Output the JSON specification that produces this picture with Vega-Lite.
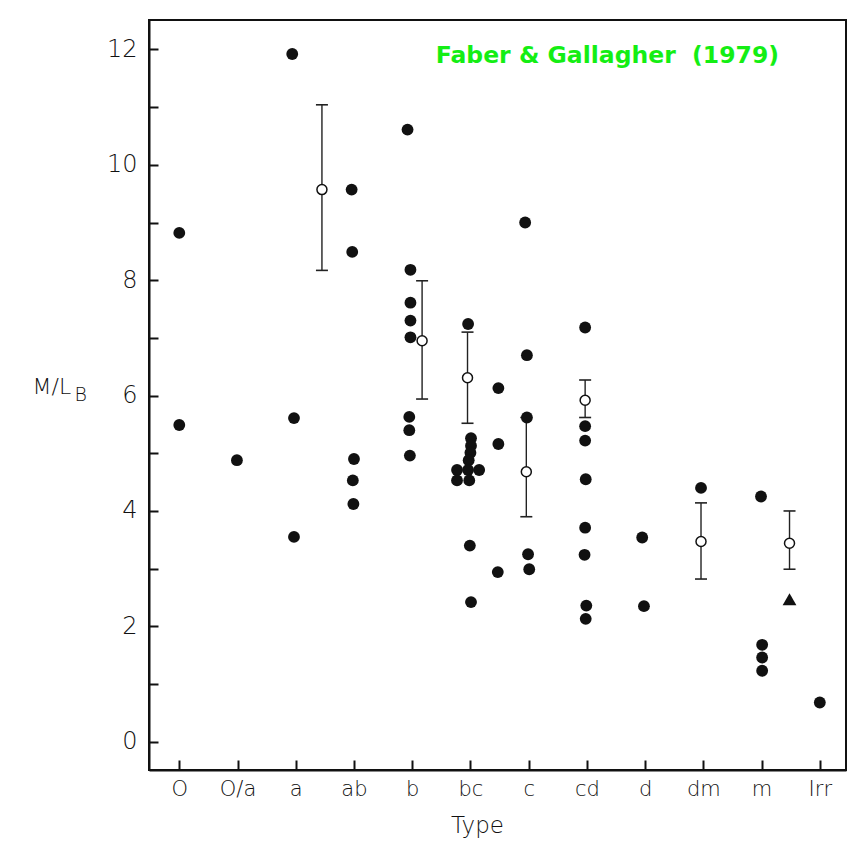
{
  "$schema": "https://vega.github.io/schema/vega-lite/v6.json",
  "autosize": {"type": "none"},
  "width": 697,
  "height": 750,
  "padding": {"left": 149, "top": 20, "right": 12, "bottom": 74},
  "background": "white",
  "title": {
    "text": "Faber & Gallagher\u00a0 (1979)",
    "anchor": "end",
    "frame": "group",
    "orient": "top",
    "offset": 0,
    "baseline": "alphabetic",
    "dx": -67,
    "dy": 66,
    "font": "DejaVu Sans",
    "fontWeight": "bold",
    "fontSize": 23.5,
    "color": "#14ee14"
  },
  "datasets": {
    "pts": [
      {"x": 0.0, "y": 8.82}, {"x": 0.0, "y": 5.49},
      {"x": 0.99, "y": 4.88},
      {"x": 1.94, "y": 11.92}, {"x": 1.97, "y": 5.61}, {"x": 1.97, "y": 3.55},
      {"x": 2.96, "y": 9.57}, {"x": 2.97, "y": 8.49}, {"x": 3.0, "y": 4.9}, {"x": 2.98, "y": 4.53}, {"x": 2.99, "y": 4.12},
      {"x": 3.92, "y": 10.61}, {"x": 3.97, "y": 8.18}, {"x": 3.97, "y": 7.61}, {"x": 3.97, "y": 7.3}, {"x": 3.97, "y": 7.01}, {"x": 3.95, "y": 5.63}, {"x": 3.95, "y": 5.4}, {"x": 3.96, "y": 4.96},
      {"x": 4.96, "y": 7.24}, {"x": 5.01, "y": 5.26}, {"x": 5.01, "y": 5.13}, {"x": 5.0, "y": 5.01}, {"x": 4.97, "y": 4.88},
      {"x": 4.77, "y": 4.71}, {"x": 4.96, "y": 4.71}, {"x": 5.15, "y": 4.71}, {"x": 4.77, "y": 4.53}, {"x": 4.98, "y": 4.53},
      {"x": 4.99, "y": 3.4}, {"x": 5.01, "y": 2.42},
      {"x": 5.48, "y": 6.13}, {"x": 5.48, "y": 5.16}, {"x": 5.47, "y": 2.94},
      {"x": 5.94, "y": 9.0}, {"x": 5.97, "y": 6.7}, {"x": 5.97, "y": 5.62}, {"x": 5.99, "y": 3.25}, {"x": 6.01, "y": 2.99},
      {"x": 6.97, "y": 7.18}, {"x": 6.97, "y": 5.47}, {"x": 6.97, "y": 5.22}, {"x": 6.98, "y": 4.55}, {"x": 6.97, "y": 3.71}, {"x": 6.96, "y": 3.24}, {"x": 6.99, "y": 2.36}, {"x": 6.98, "y": 2.13},
      {"x": 7.95, "y": 3.54}, {"x": 7.98, "y": 2.35},
      {"x": 8.96, "y": 4.4},
      {"x": 9.99, "y": 4.25}, {"x": 10.01, "y": 1.68}, {"x": 10.01, "y": 1.46}, {"x": 10.01, "y": 1.23},
      {"x": 11.0, "y": 0.68}
    ],
    "errs": [
      {"x": 2.45, "y": 9.57, "lo": 8.17, "hi": 11.04},
      {"x": 4.17, "y": 6.95, "lo": 5.94, "hi": 7.99},
      {"x": 4.95, "y": 6.31, "lo": 5.52, "hi": 7.1},
      {"x": 5.96, "y": 4.68, "lo": 3.9, "hi": 5.62},
      {"x": 6.97, "y": 5.92, "lo": 5.62, "hi": 6.27},
      {"x": 8.96, "y": 3.47, "lo": 2.82, "hi": 4.14},
      {"x": 10.48, "y": 3.44, "lo": 2.99, "hi": 4.0}
    ],
    "tri": [
      {"x": 10.48, "y": 2.47}
    ]
  },
  "encoding": {
    "x": {
      "field": "x",
      "type": "quantitative",
      "scale": {"domain": [-0.52, 11.45], "nice": false, "zero": false},
      "axis": {
        "values": [0, 1, 2, 3, 4, 5, 6, 7, 8, 9, 10, 11],
        "labelExpr": "['O', 'O/a', 'a', 'ab', 'b', 'bc', 'c', 'cd', 'd', 'dm', 'm', 'Irr'][datum.value]",
        "title": "Type",
        "titleX": 328,
        "titleY": 62,
        "titleAlign": "center",
        "titleBaseline": "alphabetic",
        "titleFontSize": 23,
        "labelFontSize": 21,
        "labelPadding": 18,
        "tickSize": -10
      }
    }
  },
  "layer": [
    {
      "data": {"name": "errs"},
      "mark": {"type": "rule", "color": "#222", "strokeWidth": 1.4},
      "encoding": {
        "y": {"field": "lo", "type": "quantitative", "scale": {"domain": [-0.49, 12.51], "nice": false, "zero": false}, "axis": null},
        "y2": {"field": "hi"}
      }
    },
    {
      "data": {"name": "errs"},
      "mark": {"type": "tick", "orient": "horizontal", "size": 12, "thickness": 1.6, "color": "#222", "opacity": 1},
      "encoding": {
        "y": {"field": "lo", "type": "quantitative", "axis": null}
      }
    },
    {
      "data": {"name": "errs"},
      "mark": {"type": "tick", "orient": "horizontal", "size": 12, "thickness": 1.6, "color": "#222", "opacity": 1},
      "encoding": {
        "y": {"field": "hi", "type": "quantitative", "axis": null}
      }
    },
    {
      "data": {"name": "pts"},
      "mark": {"type": "circle", "color": "#111", "size": 140, "opacity": 1},
      "encoding": {
        "y": {
          "field": "y",
          "type": "quantitative",
          "axis": {
            "values": [0, 1, 2, 3, 4, 5, 6, 7, 8, 9, 10, 11, 12],
            "labelExpr": "datum.value % 2 == 0 ? datum.label : ''",
            "title": "M/L",
            "titleAngle": 0,
            "titleAlign": "left",
            "titleBaseline": "alphabetic",
            "titleX": -117,
            "titleY": 373,
            "titleFontSize": 22,
            "labelFontSize": 24,
            "labelPadding": 21,
            "tickSize": -9
          }
        }
      }
    },
    {
      "data": {"name": "errs"},
      "mark": {"type": "point", "shape": "circle", "filled": true, "fill": "white", "stroke": "#111", "strokeWidth": 1.5, "size": 100, "opacity": 1},
      "encoding": {
        "y": {"field": "y", "type": "quantitative", "axis": null}
      }
    },
    {
      "data": {"name": "tri"},
      "mark": {"type": "point", "shape": "triangle-up", "filled": true, "color": "#111", "size": 190, "opacity": 1},
      "encoding": {
        "y": {
          "field": "y",
          "type": "quantitative",
          "axis": {
            "orient": "left",
            "title": "B",
            "titleAngle": 0,
            "titleAlign": "left",
            "titleBaseline": "alphabetic",
            "titleX": -75,
            "titleY": 380,
            "titleFontSize": 19,
            "domain": false,
            "ticks": false,
            "labels": false,
            "grid": false
          }
        }
      }
    }
  ],
  "resolve": {"axis": {"y": "independent"}},
  "config": {
    "view": {"stroke": "#111", "strokeWidth": 2},
    "axis": {
      "grid": false,
      "domainColor": "#111",
      "domainWidth": 2,
      "tickColor": "#111",
      "tickWidth": 2,
      "labelColor": "#111",
      "titleColor": "#111",
      "labelFont": "DejaVu Sans",
      "titleFont": "DejaVu Sans",
      "labelFontWeight": 200,
      "titleFontWeight": 200
    }
  }
}
